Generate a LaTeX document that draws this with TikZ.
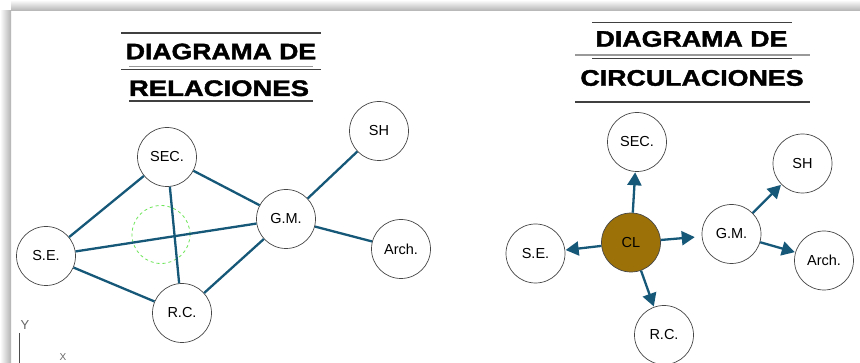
\documentclass[tikz,border=0pt]{standalone}
\usepackage{fontspec}
\setmainfont{Liberation Sans}
\newfontfamily\titlef[FakeBold=1.6]{Liberation Sans Bold}
\usetikzlibrary{arrows.meta}
\definecolor{edgec}{RGB}{22,88,120}
\definecolor{clfill}{RGB}{156,113,8}
\definecolor{ringc}{RGB}{70,70,70}
\definecolor{dashg}{RGB}{110,230,90}
\begin{document}
\begin{tikzpicture}[x=1pt,y=-1pt,
  room/.style={circle,draw=ringc,line width=0.7pt,fill=white,minimum size=59pt,inner sep=0pt,font=\fontsize{14.5}{16}\selectfont},
  link/.style={draw=edgec,line width=2.3pt},
  flow/.style={draw=edgec,line width=2.3pt,-{Triangle[length=13pt,width=14pt]},shorten >=0.5pt},
  rule/.style={draw=black!75,line width=1.3pt},
  grule/.style={draw=black!40,line width=1.5pt},
  axl/.style={text=black!60,font=\fontsize{13}{14}\selectfont,inner sep=0pt},
  ttl/.style={anchor=base,inner sep=0pt,font=\fontsize{22.5}{24}\selectfont\titlef}]
\useasboundingbox (0,0) rectangle (860,363);
\clip (0,0) rectangle (860,363);
\fill[white] (0,0) rectangle (860,363);
\shade[top color=white,bottom color=black!30] (11,0) rectangle (860,11);
\shade[left color=white,right color=black!30] (0,11) rectangle (11,363);
% titles left
\draw[rule] (121,33) -- (321,33);
\node[ttl] (t1) at (221,59.3) {\scalebox{1.18}[1]{DIAGRAMA DE}};
\draw[grule] (129,66.7) -- (313,66.7);
\draw[rule] (121,69.5) -- (321,69.5);
\node[ttl] (t2) at (219,96) {\scalebox{1.22}[1]{RELACIONES}};
\draw[rule] (129,101) -- (313,101);
% titles right
\draw[rule] (592,22.3) -- (792,22.3);
\node[ttl] (t3) at (691.5,46.7) {\scalebox{1.19}[1]{DIAGRAMA DE}};
\draw[grule] (575,55) -- (810,55);
\draw[rule] (592,58.3) -- (792,58.3);
\node[ttl] (t4) at (692,85.7) {\scalebox{1.19}[1]{CIRCULACIONES}};
\draw[rule] (575,102) -- (810,102);
% left diagram
\node[circle,draw=dashg,dashed,line width=0.8pt,minimum size=58pt,inner sep=0pt] (g) at (161,234.5) {};
\node[room] (sec) at (167,157) {SEC.};
\node[room] (se) at (46,256) {S.E.};
\node[room] (gm) at (286,219) {G.M.};
\node[room] (rc) at (182,313) {R.C.};
\node[room] (sh) at (379,131) {SH};
\node[room] (ar) at (401,249) {Arch.};
\draw[link] (sec) -- (se);
\draw[link] (sec) -- (gm);
\draw[link] (sec) -- (rc);
\draw[link] (se) -- (gm);
\draw[link] (se) -- (rc);
\draw[link] (rc) -- (gm);
\draw[link] (gm) -- (sh);
\draw[link] (gm) -- (ar);
% right diagram
\node[room,fill=clfill] (cl) at (631,242.5) {CL};
\node[room] (sec2) at (637,142) {SEC.};
\node[room] (se2) at (535.5,253.5) {S.E.};
\node[room] (rc2) at (664,335) {R.C.};
\node[room] (gm2) at (731.5,234) {G.M.};
\node[room] (sh2) at (802.5,163.5) {SH};
\node[room] (ar2) at (824,260.5) {Arch.};
\draw[flow] (cl) -- (sec2);
\draw[flow] (cl) -- (se2);
\draw[flow] (cl) -- (rc2);
\draw[flow,shorten >=7pt] (cl) -- (gm2);
\draw[flow] (gm2) -- (sh2);
\draw[flow] (gm2) -- (ar2);
% UCS icon
\node[axl] (ylab) at (25,325.5) {Y};
\coordinate (ytop) at (19,333);
\coordinate (ybot) at (19,363);
\draw[black!70,line width=0.9pt] (ytop) -- (ybot);
\node[axl,font=\fontsize{10}{11}\selectfont,anchor=north] (xlab) at (63,353) {X};
\end{tikzpicture}
\end{document}
